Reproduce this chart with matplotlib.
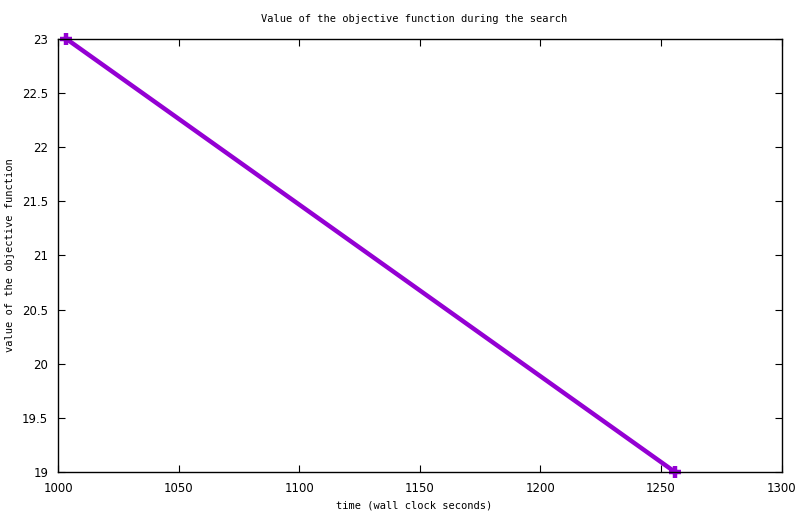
import matplotlib
matplotlib.use("Agg")
import matplotlib.pyplot as plt

# search progress: wall clock time vs objective value
times = [1003.5, 1255.8]
objective = [23, 19]

x_ticks = [1000, 1050, 1100, 1150, 1200, 1250, 1300]
y_ticks = [19, 19.5, 20, 20.5, 21, 21.5, 22, 22.5, 23]

fig = plt.figure(figsize=(8, 5.14), dpi=100)
ax = fig.add_axes([0.0725, 0.0817, 0.9045, 0.8425])

ax.plot(times, objective, color="#9400d3", linewidth=3.2, marker="+",
        markersize=9, markeredgewidth=3.2, solid_capstyle="butt", clip_on=False)

ax.set_xlim(1000, 1300)
ax.set_ylim(19, 23)
ax.set_xticks(x_ticks)
ax.set_yticks(y_ticks)
ax.set_yticklabels([("%g" % v) for v in y_ticks])
ax.tick_params(direction="in", top=True, right=True, length=5, labelsize=8.5, pad=7)
for s in ax.spines.values():
    s.set_linewidth(1)

mono = "DejaVu Sans Mono"
fig.text(0.5175, 1 - 19 / 514, "Value of the objective function during the search",
         fontsize=7.5, family=mono, ha="center", va="center")
fig.text(0.5175, 1 - 505 / 514, "time (wall clock seconds)",
         fontsize=7.5, family=mono, ha="center", va="center")
fig.text(10 / 800, 1 - 255 / 514, "value of the objective function",
         fontsize=7.5, family=mono, ha="center", va="center", rotation=90)

fig.savefig("out.png", dpi=100)
